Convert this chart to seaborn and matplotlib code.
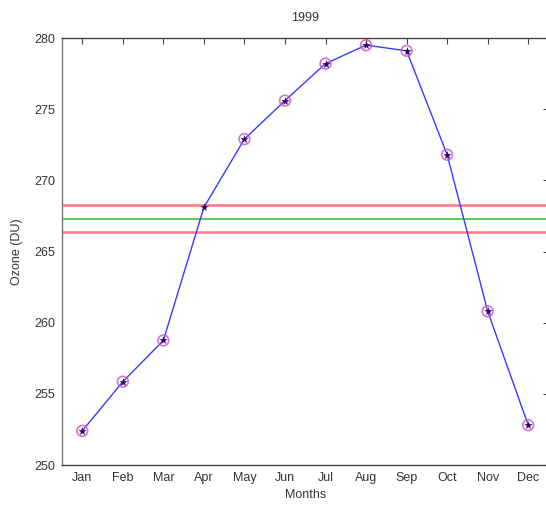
import matplotlib
matplotlib.use("Agg")
import matplotlib.pyplot as plt
import seaborn as sns
import pandas as pd

# Monthly mean total ozone for 1999
months = ["Jan", "Feb", "Mar", "Apr", "May", "Jun",
          "Jul", "Aug", "Sep", "Oct", "Nov", "Dec"]
ozone = [252.4, 255.85, 258.75, 268.1, 272.9, 275.6,
         278.2, 279.5, 279.1, 271.8, 260.8, 252.8]
# months drawn with the open ring marker
ringed = [True, True, True, False, True, True,
          True, True, True, True, True, True]
# Annual mean and the band around it
mean_level = 267.3
upper_level = 268.3
lower_level = 266.4
y_ticks = [250, 255, 260, 265, 270, 275, 280]

df = pd.DataFrame({"month": range(1, 13), "ozone": ozone, "ringed": ringed})

sns.set_style("white")
plt.rcParams["font.family"] = ["Liberation Sans", "DejaVu Sans"]

fig = plt.figure(figsize=(5.46, 5.12), dpi=100)
ax = fig.add_axes([62 / 546, 47 / 512, 486.5 / 546, 427 / 512])

# band lines
ax.axhline(upper_level, color="#ff5f6e", lw=1.8, alpha=0.85, zorder=1)
ax.axhline(mean_level, color="#3cc43c", lw=1.2, zorder=1)
ax.axhline(lower_level, color="#ff5f6e", lw=1.8, alpha=0.85, zorder=1)

sns.lineplot(data=df, x="month", y="ozone", ax=ax, color="#3a3aff",
             lw=1.0, zorder=2)
sns.scatterplot(data=df[df["ringed"]], x="month", y="ozone", ax=ax,
                marker="o", s=60, facecolor="none", edgecolor="#d050c0",
                linewidth=1.2, alpha=0.8, zorder=3)
sns.scatterplot(data=df, x="month", y="ozone", ax=ax, marker="*", s=40,
                color="#2a0a60", linewidth=0, zorder=4)

ax.set_xlim(0.5, 12.5)
ax.set_ylim(250, 280)
ax.set_xticks(range(1, 13))
ax.set_xticklabels(months)
ax.set_yticks(y_ticks)

ax.tick_params(axis="both", direction="in", length=4, width=0.8,
               colors="#444444", labelsize=9, labelcolor="#333333",
               top=True, right=True, pad=5)
for side, sp in ax.spines.items():
    sp.set_color("#444444")
    sp.set_linewidth(1.0)
    sp.set_visible(True)
ax.spines["left"].set_color("#777777")

ax.set_title("1999", fontsize=9, color="#333333", pad=12)
ax.set_xlabel("Months", fontsize=9, color="#333333", labelpad=4)
ax.set_ylabel("Ozone (DU)", fontsize=9, color="#333333", labelpad=8)

fig.savefig("out.png", dpi=100)
